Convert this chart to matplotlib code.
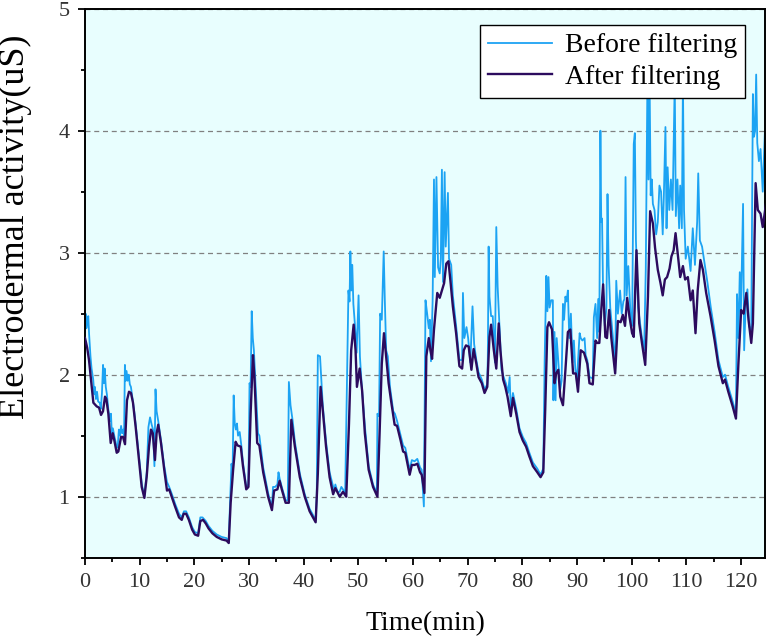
import matplotlib
matplotlib.use('Agg')
import matplotlib.pyplot as plt
from matplotlib.ticker import MultipleLocator

plt.rcParams['font.family'] = ['Liberation Serif', 'DejaVu Serif']

# EDA signal after filtering
t_after = [0.0, 0.4, 0.73, 1.1, 1.53, 2.14, 2.57, 2.93, 3.29, 3.66, 3.9, 4.27, 4.7, 5.07, 5.37,
           5.8, 6.1, 6.6, 6.95, 7.32, 7.68, 8.05, 8.41, 8.78, 9.27, 9.88, 10.37, 10.86, 11.28,
           11.71, 12.07, 12.4, 12.8, 13.1, 13.4, 13.9, 14.5, 15.0, 15.4, 15.86, 16.47, 17.2,
           17.7, 18.05, 18.5, 19.0, 19.6, 20.1, 20.7, 21.1, 21.6, 22.1, 22.6, 23.3, 24.1, 25.0,
           25.9, 26.3, 26.65, 27.1, 27.56, 27.9, 28.5, 28.9, 29.5, 29.9, 30.3, 30.73, 31.0,
           31.5, 31.9, 32.6, 33.5, 34.2, 34.6, 35.2, 35.6, 36.0, 36.7, 37.3, 37.75, 38.4, 39.3,
           40.2, 41.1, 42.2, 42.6, 43.1, 43.5, 44.1, 44.75, 45.4, 45.8, 46.6, 47.2, 47.8, 48.3,
           48.7, 49.15, 49.5, 49.75, 50.25, 50.7, 51.2, 51.9, 52.7, 53.5, 53.9, 54.3, 54.7,
           55.1, 55.55, 56.05, 56.65, 57.1, 57.75, 58.2, 58.6, 59.4, 59.8, 60.3, 60.8, 61.3,
           61.6, 62.1, 62.45, 62.9, 63.2, 63.5, 63.85, 64.45, 64.9, 65.3, 65.7, 66.1, 66.5,
           66.9, 67.3, 67.9, 68.5, 69.0, 69.3, 69.7, 70.2, 70.7, 71.1, 71.6, 72.0, 72.6, 73.1,
           73.6, 74.0, 74.3, 74.8, 75.25, 75.7, 76.0, 76.5, 76.9, 77.3, 77.9, 78.3, 78.9, 79.5,
           80.1, 80.7, 81.3, 81.95, 82.75, 83.35, 83.85, 84.2, 84.6, 84.9, 85.45, 85.9, 86.2,
           86.6, 86.95, 87.45, 87.9, 88.35, 88.8, 89.3, 89.8, 90.2, 90.7, 91.3, 91.9, 92.3,
           92.9, 93.4, 93.7, 94.1, 94.46, 94.8, 95.2, 95.5, 95.9, 96.3, 97.0, 97.5, 98.0, 98.4,
           98.8, 99.2, 99.6, 100.1, 100.4, 100.9, 101.4, 101.9, 102.5, 103.0, 103.4, 103.9,
           104.3, 104.8, 105.3, 105.7, 106.1, 106.5, 106.95, 107.3, 107.7, 108.05, 108.5,
           108.9, 109.4, 109.8, 110.3, 110.8, 111.2, 111.7, 112.1, 112.6, 113.05, 113.65,
           114.45, 115.2, 115.9, 116.7, 117.1, 117.7, 118.5, 119.1, 119.55, 120.05, 120.5,
           121.0, 121.4, 121.9, 122.2, 122.7, 123.1, 123.6, 124.0, 124.6]
eda_after = [2.30, 2.22, 2.12, 1.96, 1.77, 1.74, 1.73, 1.67, 1.70, 1.82, 1.80, 1.68, 1.44, 1.52,
             1.46, 1.36, 1.37, 1.49, 1.49, 1.43, 1.79, 1.86, 1.85, 1.77, 1.57, 1.30, 1.08, 0.99,
             1.16, 1.41, 1.55, 1.52, 1.30, 1.52, 1.59, 1.44, 1.22, 1.05, 1.06, 1.00, 0.92, 0.83,
             0.81, 0.86, 0.86, 0.81, 0.73, 0.69, 0.68, 0.80, 0.81, 0.78, 0.74, 0.70, 0.67, 0.65,
             0.64, 0.62, 0.95, 1.22, 1.45, 1.42, 1.41, 1.25, 1.06, 1.08, 1.68, 2.16, 1.98, 1.44,
             1.42, 1.20, 1.00, 0.89, 1.05, 1.06, 1.13, 1.06, 0.95, 0.95, 1.63, 1.41, 1.16, 1.00,
             0.88, 0.79, 1.19, 1.90, 1.71, 1.41, 1.16, 1.02, 1.07, 1.00, 1.04, 1.00, 1.60, 2.20,
             2.41, 2.20, 1.90, 2.05, 1.87, 1.52, 1.22, 1.08, 1.00, 1.52, 2.09, 2.34, 2.15, 1.93,
             1.77, 1.59, 1.58, 1.46, 1.37, 1.36, 1.18, 1.26, 1.26, 1.27, 1.20, 1.18, 1.03, 2.15,
             2.30, 2.20, 2.13, 2.37, 2.67, 2.63, 2.69, 2.75, 2.91, 2.93, 2.75, 2.56, 2.34, 2.07,
             2.05, 2.20, 2.24, 2.23, 2.04, 2.21, 2.09, 1.98, 1.93, 1.85, 1.90, 2.31, 2.41, 2.20,
             2.05, 2.42, 2.20, 1.96, 1.90, 1.82, 1.66, 1.81, 1.68, 1.53, 1.46, 1.41, 1.33, 1.25,
             1.20, 1.16, 1.20, 1.71, 2.39, 2.43, 2.37, 1.93, 2.01, 2.04, 1.82, 1.75, 2.04, 2.35,
             2.37, 2.01, 2.01, 1.86, 2.20, 2.18, 2.09, 1.93, 1.92, 2.28, 2.26, 2.26, 2.53, 2.74,
             2.31, 2.30, 2.53, 2.30, 2.01, 2.44, 2.43, 2.49, 2.40, 2.63, 2.48, 2.34, 2.31, 3.02,
             2.42, 2.26, 2.08, 2.64, 3.34, 3.24, 3.04, 2.86, 2.75, 2.65, 2.78, 2.80, 2.87, 2.97,
             3.02, 3.16, 2.97, 2.80, 2.89, 2.78, 2.80, 2.61, 2.69, 2.34, 2.69, 2.94, 2.86, 2.67,
             2.48, 2.28, 2.07, 1.93, 1.96, 1.86, 1.74, 1.64, 2.09, 2.53, 2.50, 2.67, 2.45, 2.26,
             2.42, 3.57, 3.35, 3.32, 3.21, 3.40]

# Raw EDA signal before filtering
t_before = [0.0, 0.1, 0.25, 0.45, 0.6, 0.75, 1.0, 1.2, 1.5, 1.7, 1.8, 2.0, 2.2, 2.4, 2.7, 2.9,
            3.1, 3.3, 3.45, 3.6, 3.8, 4.0, 4.3, 4.6, 4.75, 4.9, 5.1, 5.35, 5.6, 5.8, 6.0, 6.2,
            6.4, 6.6, 6.8, 7.0, 7.15, 7.3, 7.45, 7.6, 7.8, 8.0, 8.2, 8.4, 8.7, 9.0, 9.3, 9.9,
            10.4, 10.85, 11.3, 11.6, 11.9, 12.2, 12.45, 12.7, 12.9, 13.1, 13.4, 13.9, 14.5,
            15.0, 15.4, 15.9, 16.5, 17.2, 17.7, 18.1, 18.5, 19.0, 19.6, 20.1, 20.7, 21.1, 21.5,
            22.1, 22.6, 23.3, 24.1, 25.0, 25.9, 26.3, 26.5, 26.8, 27.0, 27.2, 27.4, 27.6, 27.8,
            28.0, 28.3, 28.6, 28.9, 29.5, 29.9, 30.1, 30.3, 30.5, 30.7, 30.9, 31.2, 31.65, 31.9,
            32.6, 33.5, 34.2, 34.4, 34.8, 35.2, 35.4, 35.6, 36.0, 36.7, 37.1, 37.3, 37.6, 38.0,
            38.4, 39.3, 40.2, 41.1, 42.2, 42.4, 42.6, 43.0, 43.2, 43.5, 44.1, 44.75, 45.3, 45.6,
            45.8, 46.2, 46.6, 46.9, 47.2, 47.6, 48.1, 48.2, 48.4, 48.55, 48.7, 48.9, 49.1, 49.4,
            49.7, 50.05, 50.3, 50.6, 51.2, 51.9, 52.7, 53.4, 53.5, 53.8, 54.0, 54.3, 54.65,
            54.85, 55.1, 55.4, 55.8, 56.4, 56.7, 57.1, 57.75, 58.2, 58.6, 59.4, 59.8, 60.3, 60.8,
            61.3, 61.6, 62.0, 62.3, 62.6, 62.9, 63.1, 63.3, 63.6, 63.85, 64.0, 64.3, 64.6, 64.9,
            65.1, 65.3, 65.5, 65.8, 66.0, 66.4, 66.6, 67.0, 67.3, 67.9, 68.5, 69.0, 69.15, 69.4,
            69.8, 70.1, 70.5, 70.9, 71.2, 71.6, 72.0, 72.6, 73.1, 73.6, 73.7, 73.85, 74.0, 74.3,
            74.6, 75.0, 75.25, 75.5, 75.8, 76.2, 76.6, 77.0, 77.4, 77.7, 77.9, 78.3, 78.9, 79.5,
            80.1, 80.7, 81.3, 81.95, 82.75, 83.35, 83.85, 84.1, 84.4, 84.6, 84.8, 85.0, 85.3,
            85.6, 85.7, 85.9, 86.1, 86.3, 86.6, 86.95, 87.2, 87.45, 87.65, 87.9, 88.1, 88.35,
            88.6, 88.9, 89.2, 89.45, 89.7, 90.0, 90.5, 90.7, 91.0, 91.4, 91.6, 91.9, 92.3, 92.9,
            93.1, 93.4, 93.7, 93.9, 94.1, 94.3, 94.45, 94.6, 94.8, 95.1, 95.4, 95.6, 95.8, 96.1,
            96.6, 97.0, 97.2, 97.5, 97.9, 98.2, 98.5, 98.7, 98.9, 99.1, 99.4, 99.8, 100.1, 100.4,
            100.6, 100.8, 101.2, 101.9, 102.3, 102.6, 102.9, 103.1, 103.3, 103.5, 103.7, 103.9,
            104.2, 104.5, 104.8, 105.1, 105.4, 105.7, 105.9, 106.2, 106.4, 106.6, 106.9, 107.2,
            107.5, 107.9, 108.1, 108.4, 108.7, 108.9, 109.2, 109.4, 109.6, 109.9, 110.3, 110.8,
            111.2, 111.6, 112.0, 112.2, 112.5, 112.9, 113.4, 113.9, 114.5, 115.2, 115.9, 116.7,
            117.1, 117.7, 118.5, 119.1, 119.3, 119.55, 119.8, 120.0, 120.4, 120.6, 120.9, 121.2,
            121.5, 121.9, 122.2, 122.4, 122.6, 122.8, 123.0, 123.3, 123.6, 124.0, 124.4, 124.8]
eda_before = [2.35, 2.50, 2.38, 2.45, 2.48, 2.33, 2.15, 2.05, 1.96, 1.84, 1.90, 1.80, 1.86, 1.78,
              1.77, 1.72, 1.85, 2.08, 1.93, 2.05, 1.90, 1.84, 1.70, 1.62, 1.68, 1.52, 1.56, 1.50,
              1.45, 1.40, 1.42, 1.55, 1.50, 1.58, 1.52, 1.55, 1.50, 2.08, 1.95, 2.03, 1.95, 2.00,
              1.92, 1.90, 1.80, 1.70, 1.58, 1.32, 1.10, 1.00, 1.20, 1.57, 1.65, 1.59, 1.55, 1.25,
              1.88, 1.70, 1.62, 1.46, 1.25, 1.12, 1.08, 1.02, 0.94, 0.86, 0.83, 0.88, 0.88, 0.83,
              0.75, 0.71, 0.70, 0.83, 0.83, 0.80, 0.76, 0.72, 0.69, 0.67, 0.66, 0.63, 0.90, 1.27,
              1.20, 1.83, 1.60, 1.55, 1.60, 1.50, 1.53, 1.42, 1.28, 1.08, 1.10, 1.93, 1.90, 2.52,
              2.30, 2.20, 1.92, 1.52, 1.50, 1.24, 1.03, 0.91, 1.08, 1.08, 1.10, 1.20, 1.15, 1.08,
              0.97, 0.97, 1.94, 1.75, 1.62, 1.45, 1.19, 1.02, 0.90, 0.81, 1.00, 2.16, 2.15, 1.99,
              1.75, 1.45, 1.20, 1.10, 1.05, 1.10, 1.04, 1.04, 1.08, 1.06, 1.03, 2.45, 2.69, 2.60,
              3.01, 2.69, 2.90, 2.58, 2.40, 2.18, 2.65, 2.15, 1.93, 1.58, 1.25, 1.10, 1.03, 1.68,
              1.66, 2.50, 2.45, 3.01, 2.62, 2.20, 2.15, 1.90, 1.70, 1.68, 1.62, 1.50, 1.42, 1.40,
              1.22, 1.30, 1.29, 1.31, 1.24, 1.22, 0.92, 2.61, 2.50, 2.38, 2.45, 2.11, 2.60, 3.60,
              2.80, 3.62, 2.88, 2.83, 2.95, 3.68, 2.76, 3.66, 3.05, 3.49, 2.95, 2.90, 2.65, 2.40,
              2.12, 2.12, 2.67, 2.30, 2.39, 2.30, 2.10, 2.56, 2.25, 2.12, 2.02, 1.96, 1.88, 1.92,
              2.14, 3.05, 2.64, 2.48, 2.48, 2.10, 3.21, 2.72, 2.42, 2.04, 1.98, 1.93, 1.85, 1.98,
              1.70, 1.85, 1.72, 1.56, 1.49, 1.44, 1.36, 1.28, 1.23, 1.18, 1.23, 2.12, 2.81, 2.52,
              2.80, 2.55, 2.61, 2.61, 1.79, 2.35, 1.79, 2.30, 2.10, 1.88, 1.95, 2.58, 2.45, 2.64,
              2.60, 2.69, 2.30, 2.50, 2.10, 2.28, 2.05, 1.95, 2.34, 2.30, 2.28, 2.30, 2.16, 2.12,
              1.98, 1.97, 2.47, 2.58, 2.30, 2.62, 2.35, 4.00, 3.25, 3.28, 2.65, 2.40, 2.55, 3.48,
              2.90, 2.55, 2.30, 2.05, 2.77, 2.50, 2.69, 2.50, 2.60, 2.62, 3.62, 2.65, 2.89, 2.50,
              2.40, 3.89, 3.98, 3.10, 2.55, 2.30, 2.20, 2.86, 4.40, 3.60, 4.40, 3.47, 3.60, 3.40,
              3.35, 3.15, 3.25, 3.55, 3.50, 3.15, 3.45, 4.03, 3.20, 3.70, 3.35, 3.60, 3.35, 4.40,
              3.30, 3.60, 3.20, 3.55, 3.20, 4.40, 3.35, 2.95, 3.05, 2.85, 3.20, 2.90, 3.25, 3.65,
              3.10, 3.05, 2.90, 2.75, 2.55, 2.35, 2.12, 1.98, 2.00, 1.90, 1.78, 1.68, 2.66, 2.30,
              2.84, 2.50, 3.40, 2.20, 2.60, 2.70, 2.40, 2.35, 4.30, 3.95, 4.00, 4.46, 3.90, 3.75,
              3.85, 3.50, 4.00, 4.00]

fig = plt.figure(figsize=(7.7, 6.43), dpi=100)
ax = fig.add_axes([0.1104, 0.1327, 0.883, 0.8538])
ax.set_facecolor('#E8FEFE')

ax.plot(t_before, eda_before, color='#1CA3F3', linewidth=1.3, label='Before filtering', zorder=2)
ax.plot(t_after, eda_after, color='#2C0B5E', linewidth=1.7, label='After filtering', zorder=3)

ax.set_xlim(0, 124.4)
ax.set_ylim(0.5, 5)
ax.xaxis.set_major_locator(MultipleLocator(10))
ax.xaxis.set_minor_locator(MultipleLocator(5))
ax.yaxis.set_major_locator(MultipleLocator(1))
ax.yaxis.set_minor_locator(MultipleLocator(0.5))
ax.tick_params(which='major', direction='out', length=5, width=1.3, labelsize=16, pad=6,
               colors='black', labelcolor='#333333')
ax.tick_params(which='minor', direction='out', length=3, width=1.3)

# dashed horizontal grid
ax.yaxis.grid(True, which='major', linestyle=(0, (4, 3)), color='#808080', linewidth=0.9)
ax.set_axisbelow(True)

for s in ax.spines.values():
    s.set_linewidth(1.4)
    s.set_color('black')

ax.set_xlabel('Time(min)', fontsize=20, labelpad=14)
ax.set_ylabel('Electrodermal activity(uS)', fontsize=26)
ax.yaxis.set_label_coords(-0.078, 0.602)

leg = ax.legend(loc='upper right', bbox_to_anchor=(0.971, 0.971), borderaxespad=0,
                fontsize=20, fancybox=False, framealpha=1, edgecolor='black',
                handlelength=2.3, labelspacing=0.22, borderpad=0.3, handletextpad=0.45)
leg.get_frame().set_linewidth(1.0)
leg.set_zorder(5)

plt.savefig('out.png', dpi=100)
